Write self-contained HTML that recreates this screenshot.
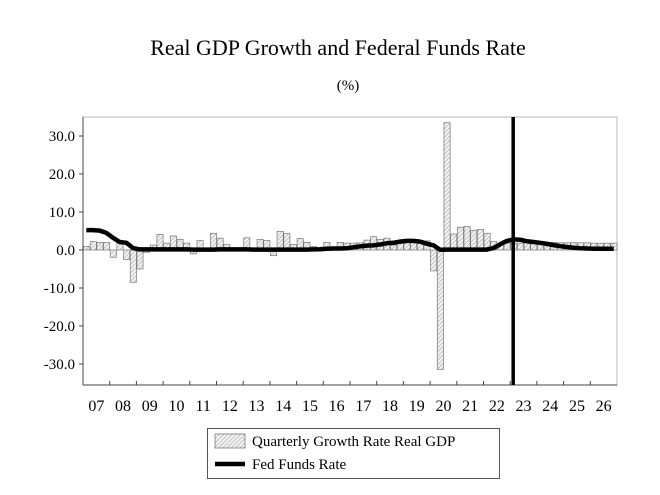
<!DOCTYPE html>
<html><head><meta charset="utf-8"><style>
body{margin:0;background:#fff;}
svg text{font-family:"Liberation Serif",serif;fill:#000;}
</style></head><body>
<svg id="c" width="660" height="490" viewBox="0 0 660 490">
<defs>
<pattern id="hatch" patternUnits="userSpaceOnUse" width="3" height="3" patternTransform="rotate(45)">
<rect width="3" height="3" fill="#f2f2f2"/>
<line x1="0" y1="0" x2="0" y2="3" stroke="#9a9a9a" stroke-width="1"/>
</pattern>
</defs>
<text x="338" y="55" font-size="22" text-anchor="middle">Real GDP Growth and Federal Funds Rate</text>
<text x="348" y="90" font-size="15" text-anchor="middle">(%)</text>
<rect x="83" y="117" width="534" height="268" fill="none" stroke="#bbb" stroke-width="1"/>
<g id="bars"></g>
<g id="axes"></g>
<path id="fed" fill="none" stroke="#000" stroke-width="4.5" stroke-linejoin="round"/>
<line id="vline" y1="117" y2="385" stroke="#000" stroke-width="3.5"/>
<g>
<rect x="207.5" y="428.5" width="292" height="50" fill="#fff" stroke="#555" stroke-width="1"/>
<rect x="215" y="434" width="30" height="14" fill="url(#hatch)" stroke="#777" stroke-width="0.8"/>
<text x="252" y="446" font-size="15">Quarterly Growth Rate Real GDP</text>
<line x1="215" y1="464" x2="245" y2="464" stroke="#000" stroke-width="4.5"/>
<text x="252" y="469" font-size="15">Fed Funds Rate</text>
</g>
</svg>
<script>
const years=["07","08","09","10","11","12","13","14","15","16","17","18","19","20","21","22","23","24","25","26"];
const yTicks=[30,20,10,0,-10,-20,-30];
const yTickLabels=["30.0","20.0","10.0","0.0","-10.0","-20.0","-30.0"];
const gdpGrowth=[0.9,2.2,2.0,2.0, -1.9,2.3,-2.5,-8.5, -5.0,-0.6,1.3,4.1, 1.8,3.7,2.8,1.8, -1.0,2.5,0.0,4.4,
 3.1,1.5,0.3,0.5, 3.2,0.5,2.8,2.5, -1.5,4.9,4.4,1.5, 3.0,2.0,0.9,0.4, 2.0,0.8,2.0,1.8,
 1.8,1.9,2.6,3.5, 2.8,3.1,1.3,1.8, 2.2,2.6,2.5,2.4, -5.5,-31.4,33.5,4.2, 6.0,6.2,5.2,5.4,
 4.4,2.2,1.5,1.8, 1.8,1.8,1.9,2.0, 2.0,2.0,2.0,1.9, 1.9,1.9,1.9,1.9, 1.8,1.8,1.8,1.8];
const fedFunds=[5.25,5.25,5.1,4.5, 3.2,2.1,1.9,0.5, 0.15,0.15,0.15,0.15, 0.15,0.15,0.15,0.15, 0.1,0.1,0.1,0.1,
 0.15,0.15,0.15,0.15, 0.15,0.1,0.1,0.1, 0.1,0.1,0.1,0.1, 0.1,0.1,0.15,0.2, 0.35,0.4,0.4,0.45,
 0.7,0.95,1.15,1.2, 1.45,1.75,1.9,2.2, 2.4,2.4,2.2,1.65, 1.25,0.05,0.1,0.1, 0.1,0.1,0.1,0.1,
 0.1,0.5,1.5,2.4, 2.8,2.7,2.3,2.1, 1.9,1.6,1.3,1.0, 0.8,0.6,0.45,0.4, 0.35,0.35,0.35,0.35];
const dividerQuarter=64.3;
const X0=83,X1=617,N=80,qw=(X1-X0)/N;
const xq=i=>X0+i*qw;
const y=v=>250-v*3.8;
const NS="http://www.w3.org/2000/svg";
function mk(t,a,p){const e=document.createElementNS(NS,t);for(const k in a)e.setAttribute(k,a[k]);p.appendChild(e);return e;}
const bars=document.getElementById('bars');
gdpGrowth.forEach((v,i)=>{
 const r=mk('rect',{x:xq(i)+0.5,y:Math.min(y(v),y(0)),width:qw-0.5,height:Math.abs(y(v)-y(0)),fill:'url(#hatch)',stroke:'#777','stroke-width':0.7},bars);
 
 
});
const ax=document.getElementById('axes');
const la=mk('line',{x1:X0,y1:117,x2:X0,y2:385,stroke:'#444','stroke-width':1},ax);


const ba=mk('line',{x1:X0,y1:385,x2:X1,y2:385,stroke:'#444','stroke-width':1},ax);


yTicks.forEach((v,i)=>{
 mk('line',{x1:X0-4,x2:X0,y1:y(v),y2:y(v),stroke:'#444'},ax);
 const t=mk('text',{x:X0-8,y:y(v)+5,'font-size':15,'text-anchor':'end'},ax);
 t.textContent=yTickLabels[i];
 
 
});
years.forEach((s,i)=>{
 mk('line',{x1:xq(i*4),x2:xq(i*4),y1:381,y2:385,stroke:'#444'},ax);
 const t=mk('text',{x:xq(i*4+2),y:411,'font-size':16,'text-anchor':'middle'},ax);
 t.textContent=s;
 
 
});
document.getElementById('fed').setAttribute('d',fedFunds.map((v,i)=>(i?'L':'M')+(xq(i)+qw/2).toFixed(1)+','+y(v).toFixed(1)).join(''));
const vl=document.getElementById('vline');vl.setAttribute('x1',xq(dividerQuarter)+1);vl.setAttribute('x2',xq(dividerQuarter)+1);
</script>
</body></html>
